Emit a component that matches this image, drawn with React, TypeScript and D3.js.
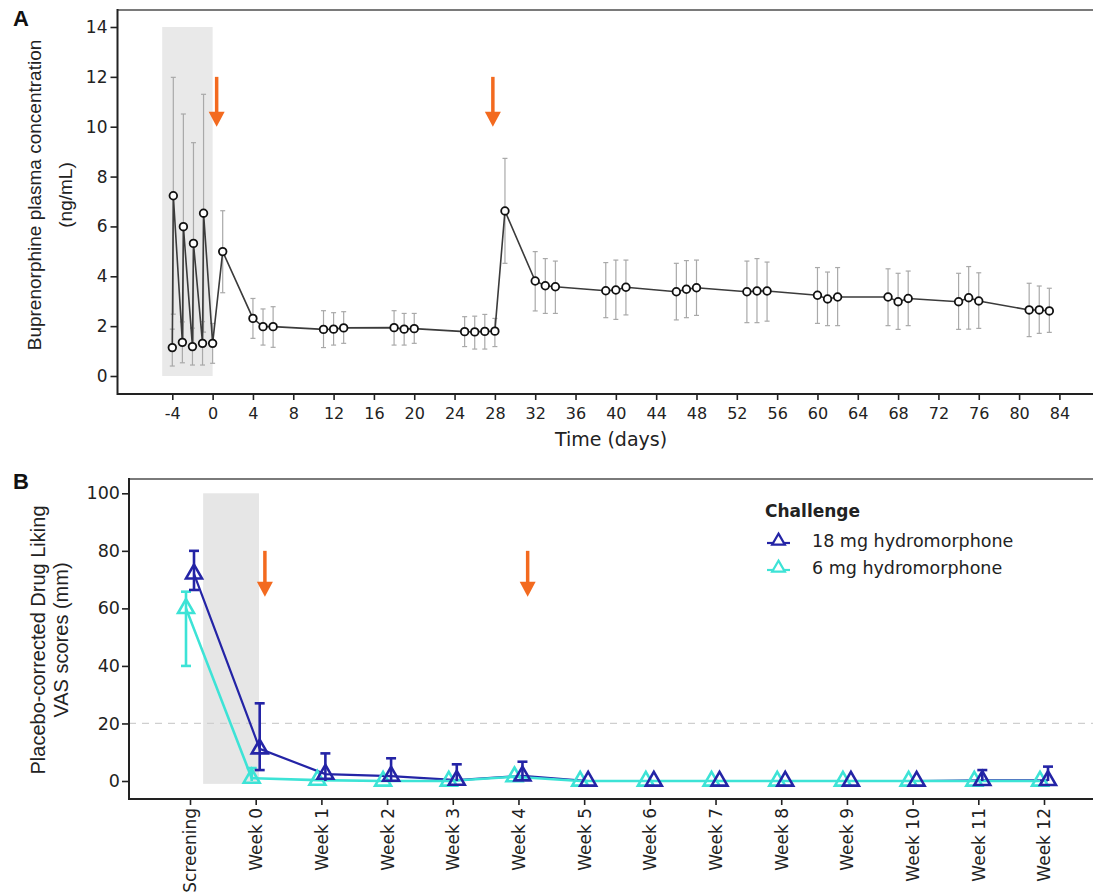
import { useEffect, useRef } from 'react';
import * as d3 from 'd3';

const W = 1093;
const H = 896;

// Panel A: buprenorphine plasma concentration (ng/mL) by day
const DAYS = [-4, -3.9, -3, -2.9, -2, -1.9, -1, -0.9, 0, 1, 4, 5, 6, 11, 12, 13, 18, 19, 20, 25, 26, 27, 28, 29,
  32, 33, 34, 39, 40, 41, 46, 47, 48, 53, 54, 55, 60, 61, 62, 67, 68, 69, 74, 75, 76, 81, 82, 83];
const CONC = [1.14, 7.23, 1.35, 5.99, 1.18, 5.32, 1.31, 6.53, 1.31, 4.99, 2.31, 1.98, 1.98, 1.87, 1.88, 1.93,
  1.94, 1.88, 1.9, 1.78, 1.77, 1.79, 1.8, 6.62, 3.81, 3.62, 3.58, 3.42, 3.45, 3.56, 3.38, 3.48, 3.54,
  3.38, 3.41, 3.41, 3.24, 3.09, 3.17, 3.17, 2.98, 3.11, 2.98, 3.14, 3.01, 2.65, 2.65, 2.61];
const CONC_LO = [0.4, 2.48, 0.53, 1.47, 0.44, 1.28, 0.44, 1.76, 0.51, 3.34, 1.51, 1.24, 1.15, 1.14, 1.24, 1.31,
  1.24, 1.24, 1.31, 1.18, 1.08, 1.08, 1.18, 4.52, 2.61, 2.51, 2.51, 2.34, 2.27, 2.45, 2.25, 2.34, 2.43,
  2.14, 2.14, 2.2, 2.11, 2.02, 2.02, 2.02, 1.87, 2.02, 1.87, 1.88, 1.91, 1.58, 1.71, 1.75];
const CONC_HI = [1.88, 11.98, 2.17, 10.51, 1.92, 9.36, 2.18, 11.3, 2.11, 6.63, 3.11, 2.69, 2.78, 2.62, 2.54, 2.58,
  2.62, 2.51, 2.51, 2.38, 2.4, 2.47, 2.31, 8.73, 4.99, 4.71, 4.61, 4.55, 4.65, 4.65, 4.52, 4.63, 4.65,
  4.61, 4.71, 4.57, 4.35, 4.17, 4.35, 4.3, 4.12, 4.21, 4.12, 4.39, 4.14, 3.72, 3.61, 3.52];
const DAY_TICKS = [-4, 0, 4, 8, 12, 16, 20, 24, 28, 32, 36, 40, 44, 48, 52, 56, 60, 64, 68, 72, 76, 80, 84];
const CONC_TICKS = [0, 2, 4, 6, 8, 10, 12, 14];
const DOSE_DAYS = [0.4, 27.8];

// Panel B: placebo-corrected drug liking VAS (mm) by visit
const VISITS = ['Screening', 'Week 0', 'Week 1', 'Week 2', 'Week 3', 'Week 4', 'Week 5', 'Week 6',
  'Week 7', 'Week 8', 'Week 9', 'Week 10', 'Week 11', 'Week 12'];
const HM18 = [72, 11.2, 2.4, 1.7, 0.3, 1.8, 0, 0, 0, 0, 0, 0, 0.2, 0.2];
const HM18_LO = [66.4, 3.8, 0, 0, 0, 0, 0, 0, 0, 0, 0, 0, 0, 0];
const HM18_HI = [80, 27, 9.6, 7.9, 5.8, 6.7, 0, 0, 0, 0, 0, 0, 3.8, 5];
const HM6 = [60, 1, 0.3, 0, 0, 1.5, 0, 0, 0, 0, 0, 0, 0, 0];
const HM6_LO = [40, 0, 0, 0, 0, 0, 0, 0, 0, 0, 0, 0, 0, 0];
const HM6_HI = [65.8, 4.5, 0.3, 0, 0, 1.5, 0, 0, 0, 0, 0, 0, 0, 0];
const VAS_TICKS = [0, 20, 40, 60, 80, 100];
const DOSE_VISITS = [1.14, 5.14];

const SERIES = [
  { label: '18 mg hydromorphone', color: '#2424a6', mean: HM18, lo: HM18_LO, hi: HM18_HI, dodge: 4 },
  { label: '6 mg hydromorphone', color: '#3de3d6', mean: HM6, lo: HM6_LO, hi: HM6_HI, dodge: -4 },
];

const ORANGE = '#f36a1f';
const TICK_FONT = 'DejaVu Sans, sans-serif';
const TITLE_FONT = 'Liberation Sans, Arial, sans-serif';

export default function App() {
  const svgRef = useRef<SVGSVGElement | null>(null);

  useEffect(() => {
    document.body.style.margin = '0';
    const svg = d3.select(svgRef.current);
    svg.selectAll('*').remove();

    const drawArrow = (g: any, x: number, y0: number, y1: number) => {
      g.append('line')
        .attr('x1', x).attr('x2', x).attr('y1', y0).attr('y2', y1 - 12)
        .attr('stroke', ORANGE).attr('stroke-width', 3.5);
      g.append('path')
        .attr('d', `M${x - 8},${y1 - 15}L${x + 8},${y1 - 15}L${x},${y1}Z`)
        .attr('fill', ORANGE);
    };

    // ---------- Panel A ----------
    const A = { left: 117.5, top: 10, bottom: 394 };
    const xA = d3.scaleLinear().domain([-4, 84]).range([172.3, 1059.4]);
    const yA = d3.scaleLinear().domain([0, 14]).range([376, 27]);
    const gA = svg.append('g');

    gA.append('rect')
      .attr('x', xA(-5)).attr('width', xA(0) - xA(-5))
      .attr('y', yA(14)).attr('height', yA(0) - yA(14))
      .attr('fill', '#e9e9e9');

    gA.append('line').attr('x1', A.left).attr('x2', W).attr('y1', A.top).attr('y2', A.top)
      .attr('stroke', '#7a7a7a').attr('stroke-width', 2);

    const ptsA = DAYS.map((d, i) => ({ d, v: CONC[i], lo: CONC_LO[i], hi: CONC_HI[i] }));

    // error bars
    const eb = gA.append('g').attr('stroke', '#a9a9a9').attr('stroke-width', 1.2);
    ptsA.forEach(p => {
      const x = xA(p.d);
      eb.append('line').attr('x1', x).attr('x2', x).attr('y1', yA(p.lo)).attr('y2', yA(p.hi));
      eb.append('line').attr('x1', x - 2.5).attr('x2', x + 2.5).attr('y1', yA(p.lo)).attr('y2', yA(p.lo));
      eb.append('line').attr('x1', x - 2.5).attr('x2', x + 2.5).attr('y1', yA(p.hi)).attr('y2', yA(p.hi));
    });

    gA.append('path')
      .datum(ptsA)
      .attr('d', d3.line<any>().x(p => xA(p.d)).y(p => yA(p.v)))
      .attr('fill', 'none').attr('stroke', '#3b3b3b').attr('stroke-width', 1.6);

    gA.selectAll('.pt').data(ptsA).join('circle')
      .attr('cx', p => xA(p.d)).attr('cy', p => yA(p.v)).attr('r', 3.8)
      .attr('fill', '#fff').attr('stroke', '#111').attr('stroke-width', 1.8);

    DOSE_DAYS.forEach(d => drawArrow(gA, xA(d), yA(12), yA(10)));

    const axAx = gA.append('g').attr('transform', `translate(0,${A.bottom})`)
      .call(d3.axisBottom(xA).tickValues(DAY_TICKS).tickFormat((d: any) => String(d))
        .tickSize(6).tickPadding(8).tickSizeOuter(0));
    axAx.select('.domain').remove();
    axAx.selectAll('line').attr('stroke', '#222').attr('stroke-width', 1.6);
    axAx.selectAll('text').attr('fill', '#222').attr('font-family', TICK_FONT).attr('font-size', 16);

    const axAy = gA.append('g').attr('transform', `translate(${A.left},0)`)
      .call(d3.axisLeft(yA).tickValues(CONC_TICKS).tickSize(7).tickPadding(3).tickSizeOuter(0));
    axAy.select('.domain').remove();
    axAy.selectAll('line').attr('stroke', '#222').attr('stroke-width', 1.6);
    axAy.selectAll('text').attr('fill', '#222').attr('font-family', TICK_FONT).attr('font-size', 17);

    gA.append('line').attr('x1', A.left).attr('x2', W).attr('y1', A.bottom).attr('y2', A.bottom)
      .attr('stroke', '#222').attr('stroke-width', 2);
    gA.append('line').attr('x1', A.left).attr('x2', A.left).attr('y1', A.top - 1).attr('y2', A.bottom + 1)
      .attr('stroke', '#222').attr('stroke-width', 2);

    gA.append('text').attr('x', 611).attr('y', 446).attr('text-anchor', 'middle')
      .attr('font-family', TICK_FONT).attr('font-size', 19).attr('fill', '#222').text('Time (days)');

    const tA = gA.append('g').attr('font-family', TITLE_FONT).attr('font-size', 19).attr('fill', '#222')
      .attr('text-anchor', 'middle');
    tA.append('text').attr('transform', 'translate(41,195) rotate(-90)').text('Buprenorphine plasma concentration');
    tA.append('text').attr('transform', 'translate(72,195) rotate(-90)').text('(ng/mL)');

    svg.append('text').attr('x', 13).attr('y', 26).attr('font-family', TITLE_FONT).attr('font-weight', 'bold')
      .attr('font-size', 22).attr('fill', '#111').text('A');

    // ---------- Panel B ----------
    const B = { left: 129, top: 479, bottom: 799 };
    const xB = d3.scaleLinear().domain([0, VISITS.length - 1]).range([190, 1044]);
    const yB = d3.scaleLinear().domain([0, 100]).range([781, 493.3]);
    const gB = svg.append('g');

    gB.append('rect')
      .attr('x', xB(0.2)).attr('width', xB(1.05) - xB(0.2))
      .attr('y', yB(100)).attr('height', yB(-1) - yB(100))
      .attr('fill', '#e6e6e6');

    gB.append('line').attr('x1', B.left).attr('x2', W).attr('y1', B.top).attr('y2', B.top)
      .attr('stroke', '#7a7a7a').attr('stroke-width', 2);

    gB.append('line').attr('x1', B.left).attr('x2', W).attr('y1', yB(20)).attr('y2', yB(20))
      .attr('stroke', '#cfcfcf').attr('stroke-width', 1.2).attr('stroke-dasharray', '7,6');

    DOSE_VISITS.forEach(v => drawArrow(gB, xB(v), yB(80), yB(64)));

    const tri = d3.symbol().type(d3.symbolTriangle).size(110);
    const lineB = (s: any) => d3.line<number>().x((_, i) => xB(i) + s.dodge).y(v => yB(v))(s.mean);

    // lines: blue below cyan
    SERIES.forEach(s => {
      gB.append('path').attr('d', lineB(s)).attr('fill', 'none')
        .attr('stroke', s.color).attr('stroke-width', s.dodge < 0 ? 2.6 : 2.2);
    });

    [SERIES[1], SERIES[0]].forEach(s => {
      const g = gB.append('g').attr('stroke', s.color).attr('stroke-width', 2.6).attr('fill', 'none');
      s.mean.forEach((v: number, i: number) => {
        const x = xB(i) + s.dodge;
        if (s.hi[i] - s.lo[i] > 0.5) {
          g.append('line').attr('x1', x).attr('x2', x).attr('y1', yB(s.lo[i])).attr('y2', yB(s.hi[i]));
          g.append('line').attr('x1', x - 5).attr('x2', x + 5).attr('y1', yB(s.hi[i])).attr('y2', yB(s.hi[i]));
          if (s.lo[i] > 0.5) {
            g.append('line').attr('x1', x - 5).attr('x2', x + 5).attr('y1', yB(s.lo[i])).attr('y2', yB(s.lo[i]));
          }
        }
        g.append('path').attr('d', tri()).attr('transform', `translate(${x},${yB(v)})`);
      });
    });

    const axBx = gB.append('g').attr('transform', `translate(0,${B.bottom})`)
      .call(d3.axisBottom(xB).tickValues(d3.range(VISITS.length)).tickFormat((i: any) => VISITS[i])
        .tickSize(6).tickPadding(9).tickSizeOuter(0));
    axBx.select('.domain').remove();
    axBx.selectAll('line').attr('stroke', '#222').attr('stroke-width', 1.6);
    axBx.selectAll('text').attr('fill', '#222').attr('font-family', TICK_FONT).attr('font-size', 17)
      .attr('text-anchor', 'end').attr('transform', 'rotate(-90)')
      .attr('x', -9).attr('y', 0).attr('dy', '0.35em');

    const axBy = gB.append('g').attr('transform', `translate(${B.left},0)`)
      .call(d3.axisLeft(yB).tickValues(VAS_TICKS).tickSize(7).tickPadding(2).tickSizeOuter(0));
    axBy.select('.domain').remove();
    axBy.selectAll('line').attr('stroke', '#222').attr('stroke-width', 1.6);
    axBy.selectAll('text').attr('fill', '#222').attr('font-family', TICK_FONT).attr('font-size', 17.5);

    gB.append('line').attr('x1', B.left).attr('x2', W).attr('y1', B.bottom).attr('y2', B.bottom)
      .attr('stroke', '#222').attr('stroke-width', 2);
    gB.append('line').attr('x1', B.left).attr('x2', B.left).attr('y1', B.top - 1).attr('y2', B.bottom + 1)
      .attr('stroke', '#222').attr('stroke-width', 2);

    const tB = gB.append('g').attr('font-family', TITLE_FONT).attr('font-size', 20).attr('fill', '#222')
      .attr('text-anchor', 'middle');
    tB.append('text').attr('transform', 'translate(45,640) rotate(-90)').text('Placebo-corrected Drug Liking');
    tB.append('text').attr('transform', 'translate(68,640) rotate(-90)').text('VAS scores (mm)');

    svg.append('text').attr('x', 13).attr('y', 489).attr('font-family', TITLE_FONT).attr('font-weight', 'bold')
      .attr('font-size', 22).attr('fill', '#111').text('B');

    // legend
    const lg = gB.append('g').attr('transform', 'translate(765,0)');
    lg.append('text').attr('x', 0).attr('y', 517).attr('font-family', TICK_FONT).attr('font-weight', 'bold')
      .attr('font-size', 17).attr('fill', '#222').text('Challenge');
    const legTri = d3.symbol().type(d3.symbolTriangle).size(70);
    SERIES.forEach((s, i) => {
      const y = 541 + i * 27;
      lg.append('line').attr('x1', 2).attr('x2', 25).attr('y1', y + 2).attr('y2', y + 2)
        .attr('stroke', s.color).attr('stroke-width', 2.2);
      lg.append('path').attr('d', legTri()).attr('transform', `translate(13.5,${y})`)
        .attr('fill', '#fff').attr('stroke', s.color).attr('stroke-width', 2.2);
      lg.append('text').attr('x', 47).attr('y', y + 6).attr('font-family', TICK_FONT)
        .attr('font-size', 17.5).attr('fill', '#222').text(s.label);
    });
  }, []);

  return <svg ref={svgRef} width={W} height={H} style={{ display: 'block', background: '#fff' }} />;
}
